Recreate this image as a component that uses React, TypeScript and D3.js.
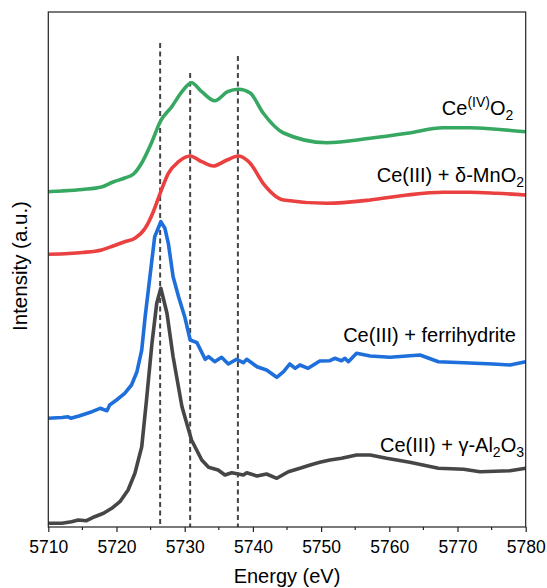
import { useRef, useEffect } from 'react';
import * as d3 from 'd3';

// Energy (eV) and normalized intensity (a.u., stacked with offsets)
const ceo2E = [5710, 5712, 5715, 5717.8, 5719.5, 5721.2, 5722.5, 5723.7, 5725.2, 5726.4, 5728.1, 5729.6, 5731.0, 5732.5, 5734.4, 5736.3, 5737.9, 5739.6, 5741.5, 5744.5, 5750.8, 5757.2, 5762.6, 5767.9, 5771.8, 5775.7, 5780];
const ceo2I = [3.353, 3.36, 3.375, 3.40, 3.45, 3.49, 3.53, 3.64, 3.853, 4.053, 4.203, 4.353, 4.443, 4.353, 4.263, 4.353, 4.377, 4.34, 4.14, 3.94, 3.843, 3.887, 3.937, 3.993, 3.993, 3.977, 3.953];

const mno2E = [5710, 5713, 5715, 5717.8, 5719.5, 5721.2, 5722.7, 5724.2, 5725.4, 5726.4, 5727.6, 5729.1, 5730.8, 5732.5, 5734.2, 5736.2, 5737.9, 5739.6, 5741.5, 5744.5, 5750.8, 5757.2, 5762.6, 5767.9, 5771.8, 5775.7, 5780];
const mno2I = [2.727, 2.735, 2.745, 2.77, 2.81, 2.853, 2.887, 2.987, 3.153, 3.337, 3.537, 3.653, 3.71, 3.653, 3.61, 3.67, 3.71, 3.637, 3.437, 3.27, 3.237, 3.27, 3.32, 3.347, 3.347, 3.337, 3.32];

const ferriE = [5710, 5712.0, 5712.9, 5713.3, 5714.5, 5716.4, 5717.6, 5718.6, 5719.0, 5720.0, 5721.2, 5722.2, 5723.0, 5723.7, 5724.2, 5724.9, 5725.6, 5726.5, 5727.1, 5727.6, 5728.3, 5729.1, 5730.0, 5730.8, 5731.8, 5733.0, 5733.5, 5734.4, 5735.4, 5736.4, 5737.6, 5738.6, 5739.1, 5740.6, 5742.0, 5743.5, 5744.5, 5745.4, 5746.2, 5746.9, 5748.1, 5749.8, 5751.3, 5752.0, 5753.0, 5753.5, 5754.0, 5755.2, 5757.2, 5760.1, 5764.5, 5767.2, 5770.9, 5775.2, 5777.7, 5780];
const ferriI = [1.087, 1.095, 1.103, 1.087, 1.11, 1.153, 1.187, 1.163, 1.22, 1.27, 1.337, 1.42, 1.553, 1.77, 2.103, 2.503, 2.903, 3.053, 2.987, 2.837, 2.503, 2.303, 2.103, 1.87, 1.843, 1.677, 1.703, 1.653, 1.697, 1.63, 1.677, 1.643, 1.677, 1.603, 1.57, 1.497, 1.553, 1.63, 1.587, 1.62, 1.587, 1.66, 1.663, 1.687, 1.663, 1.687, 1.653, 1.737, 1.71, 1.697, 1.72, 1.653, 1.643, 1.63, 1.62, 1.653];

const al2o3E = [5710, 5712.0, 5713.4, 5714.4, 5715.6, 5716.8, 5718.1, 5719.3, 5720.5, 5721.7, 5722.7, 5723.7, 5724.4, 5725.2, 5725.9, 5726.5, 5727.4, 5728.3, 5729.6, 5731.0, 5732.5, 5733.5, 5734.9, 5735.9, 5736.9, 5738.6, 5739.1, 5740.6, 5742.0, 5743.5, 5745.2, 5746.9, 5748.4, 5749.8, 5751.3, 5753.0, 5755.2, 5757.2, 5759.6, 5763.0, 5767.2, 5770.9, 5773.3, 5777.7, 5780];
const al2o3I = [0.037, 0.037, 0.053, 0.07, 0.063, 0.103, 0.137, 0.187, 0.253, 0.37, 0.537, 0.803, 1.27, 1.837, 2.237, 2.387, 2.137, 1.703, 1.203, 0.87, 0.67, 0.597, 0.57, 0.52, 0.543, 0.52, 0.543, 0.51, 0.53, 0.487, 0.553, 0.587, 0.62, 0.647, 0.67, 0.687, 0.72, 0.72, 0.687, 0.647, 0.587, 0.577, 0.553, 0.563, 0.587];

// reference lines
const dashEnergies = [5726.4, 5730.8, 5737.8];
const dashTops = [4.84, 4.54, 4.71];

const xTicks = [5710, 5720, 5730, 5740, 5750, 5760, 5770, 5780];

function App() {
    const svgRef = useRef<SVGSVGElement>(null);

    useEffect(() => {
        const width = 547;
        const height = 588;
        const margin = { top: 12, right: 21.3, bottom: 61, left: 48.3 };
        const font = "Arial, 'Liberation Sans', sans-serif";

        const svg = d3.select(svgRef.current)
            .attr("width", width)
            .attr("height", height)
            .style("font-family", font);
        svg.selectAll("*").remove();

        const x = d3.scaleLinear().domain([5710, 5780]).range([margin.left, width - margin.right]);
        const y = d3.scaleLinear().domain([0, 5.15]).range([height - margin.bottom, margin.top]);

        //Dashed reference lines
        dashEnergies.forEach((e, i) => {
            svg.append("line")
                .attr("x1", x(e)).attr("x2", x(e))
                .attr("y1", y(dashTops[i])).attr("y2", y(0))
                .attr("stroke", "#444")
                .attr("stroke-width", 2)
                .attr("stroke-dasharray", "5,3.5");
        });

        //Spectra
        const series = [
            { e: ceo2E, v: ceo2I, color: "#37a862", smooth: true },
            { e: mno2E, v: mno2I, color: "#ea4040", smooth: true },
            { e: ferriE, v: ferriI, color: "#1e6fdc", smooth: false },
            { e: al2o3E, v: al2o3I, color: "#464646", smooth: false },
        ];
        series.forEach(s => {
            const line = d3.line<number>()
                .x((_, i) => x(s.e[i]))
                .y(d => y(d))
                .curve(s.smooth ? d3.curveMonotoneX : d3.curveLinear);
            svg.append("path")
                .datum(s.v)
                .attr("fill", "none")
                .attr("stroke", s.color)
                .attr("stroke-width", 3.6)
                .attr("stroke-linejoin", "round")
                .attr("d", line);
        });

        //Frame
        svg.append("rect")
            .attr("x", margin.left).attr("y", margin.top)
            .attr("width", width - margin.left - margin.right)
            .attr("height", height - margin.top - margin.bottom)
            .attr("fill", "none")
            .attr("stroke", "#222")
            .attr("stroke-width", 1.2);

        //X axis
        const xAxis = d3.axisBottom(x).tickValues(xTicks).tickSize(5).tickFormat(d3.format("d"));
        const gx = svg.append("g").attr("transform", `translate(0,${y(0)})`).call(xAxis);
        gx.select(".domain").remove();
        gx.selectAll("line").attr("stroke", "#222").attr("stroke-width", 1.2);
        gx.selectAll("text")
            .attr("font-size", "17.5px")
            .attr("font-family", font)
            .attr("fill", "#000")
            .attr("dy", null)
            .attr("y", 25.7);
        const minor = d3.range(5715, 5780, 10);
        svg.append("g").selectAll("line").data(minor).join("line")
            .attr("x1", d => x(d)).attr("x2", d => x(d))
            .attr("y1", y(0)).attr("y2", y(0) + 3)
            .attr("stroke", "#222").attr("stroke-width", 1.2);

        //Axis titles
        svg.append("text")
            .attr("x", (margin.left + width - margin.right) / 2)
            .attr("y", 583.3)
            .attr("text-anchor", "middle")
            .attr("font-size", "20px")
            .text("Energy (eV)");
        svg.append("text")
            .attr("transform", `translate(27,266) rotate(-90)`)
            .attr("text-anchor", "middle")
            .attr("font-size", "20.5px")
            .text("Intensity (a.u.)");

        //Series labels
        const addLabel = (xr: number, yb: number, parts: [string, string][]) => {
            const t = svg.append("text")
                .attr("x", xr).attr("y", yb)
                .attr("text-anchor", "end")
                .attr("font-size", "20px");
            parts.forEach(([txt, kind]) => {
                const ts = t.append("tspan").text(txt);
                if (kind === "sub") ts.attr("font-size", "14px").attr("dy", 5);
                if (kind === "sup") ts.attr("font-size", "14px").attr("dy", -8);
                if (kind === "after-sub") ts.attr("dy", -5);
                if (kind === "after-sup") ts.attr("dy", 8);
            });
        };
        addLabel(513.3, 115, [["Ce", ""], ["(IV)", "sup"], ["O", "after-sup"], ["2", "sub"]]);
        addLabel(524, 182, [["Ce(III) + δ-MnO", ""], ["2", "sub"]]);
        addLabel(516, 342, [["Ce(III) + ferrihydrite", ""]]);
        addLabel(524, 452, [["Ce(III) + γ-Al", ""], ["2", "sub"], ["O", "after-sub"], ["3", "sub"]]);
    }, []);

    return <svg ref={svgRef} style={{ position: "absolute", left: 0, top: 0 }} />;
}

export default App;
